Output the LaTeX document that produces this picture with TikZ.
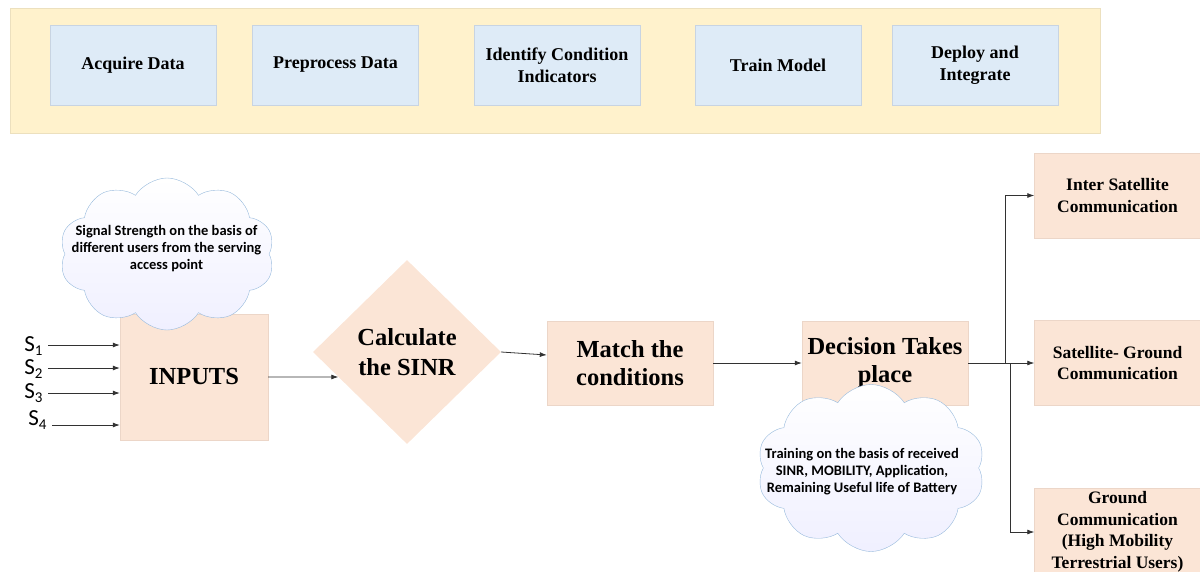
\documentclass[tikz,border=0pt]{standalone}
\usepackage{fontspec}
\setmainfont{Liberation Serif}[BoldFont={Liberation Serif Bold}]
\newfontfamily\boxfont{Liberation Serif}[BoldFont={Liberation Serif Bold}]
\newfontfamily\calfont{Carlito}
\usetikzlibrary{arrows,arrows.meta,shapes.geometric,shapes.symbols}

\definecolor{bandyellow}{RGB}{255,242,204}
\definecolor{bandedge}{RGB}{236,224,190}
\definecolor{stageblue}{RGB}{222,235,247}
\definecolor{stageedge}{RGB}{200,212,226}
\definecolor{peach}{RGB}{251,229,214}
\definecolor{peachedge}{RGB}{236,214,200}
\definecolor{cloudedge}{RGB}{150,185,220}
\definecolor{wire}{RGB}{50,50,50}

\newcommand{\sig}[1]{{\calfont S\raisebox{-0.3ex}{\fontsize{15}{15}\selectfont #1}}}

\tikzset{
  stagebox/.style={fill=stageblue,draw=stageedge,minimum width=166pt,minimum height=80pt,
    inner sep=0pt,align=center,font=\boxfont\fontsize{18}{22}\selectfont\bfseries},
  flowbox/.style={fill=peach,draw=peachedge,minimum width=166pt,minimum height=84pt,
    inner sep=0pt,align=center,font=\boxfont\fontsize{24.5}{28}\selectfont\bfseries},
  outbox/.style={fill=peach,draw=peachedge,minimum width=166pt,minimum height=85pt,
    inner sep=0pt,align=center,font=\boxfont\fontsize{17.5}{21.5}\selectfont\bfseries},
  cloudnote/.style={cloud,cloud puffs=10,cloud puff arc=115,cloud ignores aspect,
    draw=cloudedge,top color=white,bottom color=blue!6,inner sep=0pt},
  notetext/.style={align=center,inner sep=0pt,font=\calfont\fontsize{14.5}{17}\selectfont\bfseries},
  link/.style={draw=wire,line width=0.8pt,-{Latex[length=7pt,width=5pt]}}
}

\begin{document}
\begin{tikzpicture}[x=1pt,y=-1pt]
    \useasboundingbox (0,0) rectangle (1200,571);

    % workflow band
    \node (band) at (555,70.5) [fill=bandyellow,draw=bandedge,minimum width=1090pt,minimum height=125pt] {};
    \node (acq) at (133,65) [stagebox] {Acquire Data};
    \node (prep) at (335.5,65) [stagebox] {Preprocess Data};
    \node (ident) at (557,65) [stagebox] {Identify Condition\\Indicators};
    \node (train) at (778,65) [stagebox] {Train Model};
    \node (deploy) at (975,65) [stagebox] {Deploy and\\Integrate};

    % main flow
    \node (inputs) at (194,377) [flowbox,minimum width=148pt,minimum height=126pt] {INPUTS};
    \node (sinr) at (407,352) [diamond,fill=peach,minimum width=188pt,minimum height=184pt,
      inner sep=0pt,align=center,font=\boxfont\fontsize{24.5}{30}\selectfont\bfseries] {Calculate\\the SINR};
    \node (match) at (630,363) [flowbox] {Match the\\conditions};
    \node (decide) at (885,363) [flowbox] {Decision Takes\\place};

    \node (inter) at (1117.5,195.5) [outbox] {Inter Satellite\\Communication};
    \node (satg) at (1117.5,363) [outbox] {Satellite- Ground\\Communication};
    \node (ground) at (1117.5,532) [outbox,minimum height=88pt] {Ground\\Communication\\(High Mobility\\Terrestrial Users)};

    % signal inputs
    \coordinate (in1) at (48,345);
    \coordinate (in2) at (48,368);
    \coordinate (in3) at (48,393);
    \coordinate (in4) at (52,425);
    \node (s1) [left=2pt] at ([yshift=-1pt]in1) {\fontsize{23}{23}\selectfont\sig{1}};
    \node (s2) [left=2pt] at ([yshift=-1pt]in2) {\fontsize{23}{23}\selectfont\sig{2}};
    \node (s3) [left=2pt] at (in3) {\fontsize{23}{23}\selectfont\sig{3}};
    \node (s4) [left=2pt] at ([yshift=5pt]in4) {\fontsize{23}{23}\selectfont\sig{4}};

    \draw[link] (in1) -- (inputs.west |- in1);
    \draw[link] (in2) -- (inputs.west |- in2);
    \draw[link] (in3) -- (inputs.west |- in3);
    \draw[link] (in4) -- (inputs.west |- in4);

    \draw[link] (inputs.east) -- (sinr.200);
    \draw[link] (sinr.east) -- ([yshift=8pt]match.west);
    \draw[link] (match.east) -- (decide.west);

    % branches
    \coordinate (fork) at (1005,363);
    \coordinate (forkb) at (1010,363);
    \draw[link] (decide.east) -- (satg.west);
    \draw[link] (fork) |- (inter.west);
    \draw[link] (forkb) |- (ground.west);

    % notes
    \node (note1) at (167,254) [cloudnote,minimum width=215pt,minimum height=152pt] {};
    \node (note1txt) at (166.5,249) [notetext]
      {Signal Strength on the basis of\\different users from the serving\\access point};
    \node (note2) at (871,468) [cloudnote,minimum width=228pt,minimum height=167pt] {};
    \node (note2txt) at (862,472) [notetext]
      {Training on the basis of received\\SINR, MOBILITY, Application,\\Remaining Useful life of Battery};
\end{tikzpicture}
\end{document}
